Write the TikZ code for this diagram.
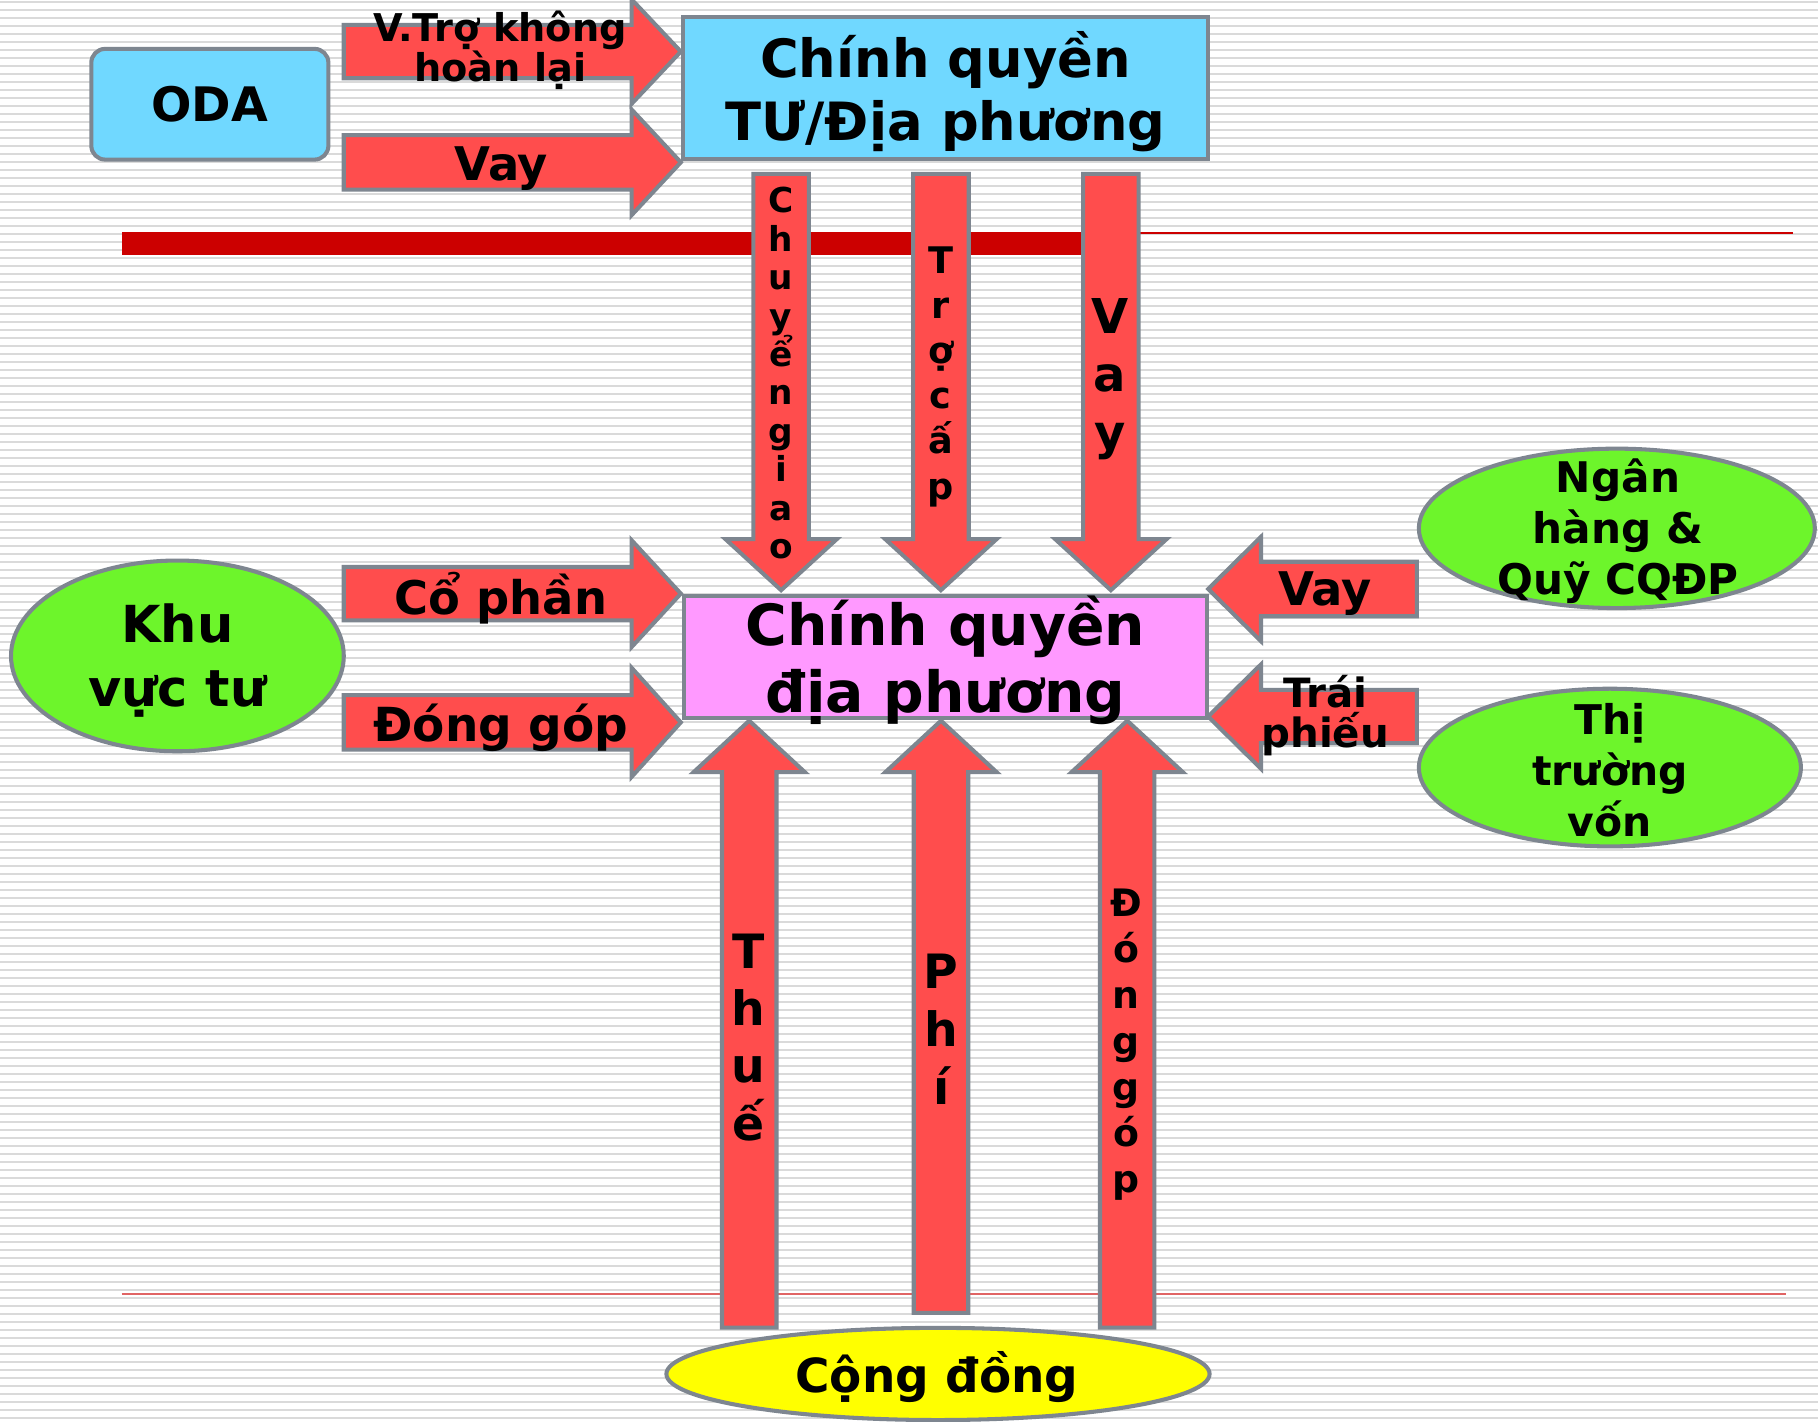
\documentclass[tikz,border=0pt]{standalone}
\usepackage{fontspec}
\setmainfont{DejaVu Sans}
\usetikzlibrary{shapes.geometric}
\definecolor{bord}{HTML}{7E8690}
\definecolor{arrred}{HTML}{FF4D4D}
\definecolor{cyanbox}{HTML}{70D8FF}
\definecolor{pinkbox}{HTML}{FF99FF}
\definecolor{greenell}{HTML}{6DF52B}
\definecolor{yel}{HTML}{FFFF00}
\definecolor{barred}{HTML}{CC0000}
\definecolor{thinred}{HTML}{E06464}
\definecolor{stripe}{HTML}{DADADA}
\newcommand\harrow[6]{% tail x, head-base x, tip x, yc, shaft half, head half
  \draw[blockarrow] (#1,#4-#5) -- (#2,#4-#5) -- (#2,#4-#6) -- (#3,#4) -- (#2,#4+#6) -- (#2,#4+#5) -- (#1,#4+#5) -- cycle;}
\newcommand\varrow[6]{% tail y, head-base y, tip y, xc, shaft half, head half
  \draw[blockarrow] (#4-#5,#1) -- (#4-#5,#2) -- (#4-#6,#2) -- (#4,#3) -- (#4+#6,#2) -- (#4+#5,#2) -- (#4+#5,#1) -- cycle;}
\newcommand\fs[2]{\fontsize{#1}{#2}\selectfont\bfseries}
\begin{document}
\begin{tikzpicture}[x=1pt,y=-1pt,
  boxnode/.style={draw=bord,line width=3.5pt,inner sep=0pt,align=center,rectangle},
  ellnode/.style={draw=bord,line width=3.5pt,inner sep=0pt,ellipse,fill=greenell},
  blockarrow/.style={fill=arrred,draw=bord,line width=3.5pt,line join=miter},
  lbl/.style={inner sep=0pt,align=center,text=black}]
\useasboundingbox (0,0) rectangle (1568,1226);
\fill[white] (0,0) rectangle (1568,1226);
\foreach \i in {0,...,177} \fill[stripe] (0,{0.6+\i*6.9}) rectangle (1568,{2.4+\i*6.9});
% red lines
\fill[barred] (105,200) rectangle (958,220);
\draw[barred,line width=1.5pt] (958,201) -- (1546,201);
\draw[thinred,line width=1.3pt] (105,1116) -- (1540,1116);
% nodes
\node[boxnode,fill=cyanbox,rounded corners=12pt,minimum width=204.5pt,minimum height=95.5pt,font=\fs{41}{49}] (oda) at (181,89.9) {ODA};
\node[boxnode,fill=cyanbox,minimum width=453.5pt,minimum height=122.5pt,font=\fs{45.5}{55}] (tu) at (815.5,76) {};
\node[lbl,font=\fs{45.5}{55}] (tutext) at (815.5,79) {Chính quyền\\TƯ/Địa phương};
\node[boxnode,fill=pinkbox,minimum width=451.5pt,minimum height=105.5pt] (dp) at (815.5,566.5) {};
\node[lbl,font=\fs{49}{58}] (dptext) at (815.5,569.5) {Chính quyền\\địa phương};
\node[ellnode,minimum width=287pt,minimum height=164.5pt] (ktu) at (153,565.7) {};
\node[lbl,font=\fs{44}{55}] (ktutext) at (153,569.5) {Khu\\vực tư};
\node[ellnode,minimum width=341.5pt,minimum height=137.5pt] (nh) at (1394.5,455.7) {};
\node[lbl,font=\fs{36.4}{44}] (nhtext) at (1395.5,458) {Ngân\\hàng \&\\Quỹ CQĐP};
\node[ellnode,minimum width=329.5pt,minimum height=136pt] (ttv) at (1388.5,662) {};
\node[lbl,font=\fs{35.3}{44}] (ttvtext) at (1388.5,664) {Thị\\trường\\vốn};
\node[ellnode,fill=yel,minimum width=468.5pt,minimum height=79.5pt] (cd) at (809,1185) {};
\node[lbl,font=\fs{40.5}{48}] (cdtext) at (808,1188) {Cộng đồng};
% horizontal arrows
\harrow{296.5}{544.8}{587.2}{44.5}{23}{45}
\harrow{296.5}{544.8}{587.2}{140}{23.5}{45.5}
\harrow{296.5}{544.8}{587.2}{512}{23}{46}
\harrow{296.5}{544.8}{587.2}{623}{23.5}{47}
\harrow{1222}{1087.6}{1042}{508}{23.5}{45}
\harrow{1222}{1087.6}{1042}{618}{23}{45}
% vertical arrows
\varrow{150}{465}{509}{673.7}{24}{48}
\varrow{150}{465}{509}{811.5}{24}{48}
\varrow{150}{465}{509}{958.1}{24}{48}
\varrow{1145}{666}{621.6}{646.2}{23.5}{48}
\varrow{1132.4}{666}{621.6}{811.6}{23.5}{48}
\varrow{1145}{666}{621.6}{972.2}{23.5}{48}
% horizontal labels
\node[lbl,font=\fs{33}{30}] (lvtro) at (431.5,43) {V.Trợ không\\hoàn lại};
\node[lbl,font=\fs{40}{48}] (lvay1) at (432.5,145) {Vay};
\node[lbl,font=\fs{40}{48}] (lcp) at (432,516) {Cổ phần};
\node[lbl,font=\fs{40.5}{48}] (ldg) at (432,628) {Đóng góp};
\node[lbl,font=\fs{40}{48}] (lvay2) at (1143,512) {Vay};
\node[lbl,font=\fs{34.8}{35}] (ltp) at (1143,617) {Trái\\phiếu};
% vertical labels
\foreach \l [count=\k from 0] in {C,h,u,y,ể,n,g,i,a,o}
  \node[lbl,anchor=base,font=\fs{29.6}{33}] (cg\k) at (673.7,{183.3+\k*33.2}) {\l};
\foreach \l [count=\k from 0] in {T,r,ợ,c,ấ,p}
  \node[lbl,anchor=base,font=\fs{31.6}{39}] (tc\k) at (811.3,{235.5+\k*39}) {\l};
\foreach \l [count=\k from 0] in {V,a,y}
  \node[lbl,anchor=base,font=\fs{41.4}{50}] (vy\k) at (957.5,{288+\k*50}) {\l};
\foreach \l [count=\k from 0] in {T,h,u,ế}
  \node[lbl,anchor=base,font=\fs{40.8}{50}] (th\k) at (645.4,{835+\k*49.5}) {\l};
\foreach \l [count=\k from 0] in {P,h,í}
  \node[lbl,anchor=base,font=\fs{40.8}{50}] (ph\k) at (811.7,{852.6+\k*50}) {\l};
\foreach \l [count=\k from 0] in {Đ,ó,n,g,g,ó,p}
  \node[lbl,anchor=base,font=\fs{32.6}{40}] (dgv\k) at (971.3,{790.2+\k*39.7}) {\l};
\end{tikzpicture}
\end{document}
